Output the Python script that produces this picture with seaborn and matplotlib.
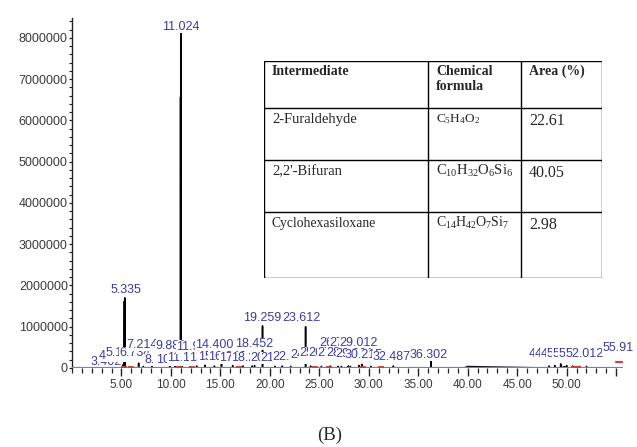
import matplotlib
matplotlib.use("Agg")
import matplotlib.pyplot as plt
import numpy as np
import pandas as pd
import seaborn as sns
from matplotlib.ticker import MultipleLocator, FixedLocator, FuncFormatter

# ---- chromatogram peaks: retention time (min) and abundance ----
peak_rt = [3.402, 4.118, 5.170, 5.290, 5.335, 6.734, 7.214, 8.105, 9.881, 10.412,
           10.972, 11.024, 11.132, 11.930, 12.604, 13.458, 14.400, 15.112, 16.240,
           17.305, 18.220, 18.452, 19.259, 20.514, 21.260, 22.105, 23.612, 24.118,
           25.214, 26.108, 26.880, 27.230, 27.930, 28.140, 29.012, 29.301, 30.215,
           32.487, 36.302, 48.214, 48.806, 49.402, 50.006, 50.610, 51.304, 52.012,
           55.910]
peak_abund = [0.06e6, 0.04e6, 0.08e6, 1.62e6, 1.70e6, 0.12e6, 0.04e6, 0.05e6, 0.06e6, 0.04e6,
              6.57e6, 8.12e6, 0.10e6, 0.06e6, 0.05e6, 0.07e6, 0.05e6, 0.10e6, 0.06e6,
              0.05e6, 0.05e6, 0.06e6, 1.02e6, 0.04e6, 0.05e6, 0.04e6, 1.00e6, 0.05e6,
              0.04e6, 0.05e6, 0.04e6, 0.04e6, 0.05e6, 0.04e6, 0.06e6, 0.09e6, 0.04e6,
              0.05e6, 0.18e6, 0.05e6, 0.06e6, 0.10e6, 0.06e6, 0.05e6, 0.04e6, 0.04e6,
              0.05e6]
# whether the integrator printed a retention-time label for the peak
peak_labelled = [True, True, True, False, True, True, True, True, True, True,
                 False, True, True, True, True, True, True, True, True,
                 True, True, True, True, True, True, True, True, True,
                 True, True, True, True, True, True, True, True, True,
                 True, True, True, True, True, True, True, True, True,
                 True]

# ---- label placement (retention time axis, abundance axis) ----
label_x = [3.45, 4.20, 5.00, None, 5.45, 6.35, 7.10, 8.95, 10.00, 10.40,
           None, 10.96, 11.50, 12.40, 13.10, 13.80, 14.40, 14.60, 15.70,
           16.80, 18.00, 18.45, 19.26, 20.00, 21.00, 22.20, 23.20, 24.00,
           24.90, 25.80, 26.90, 26.70, 27.90, 27.60, 29.00, 28.60, 29.50,
           32.30, 36.10, 48.10, 48.70, 49.30, 49.90, 50.50, 51.10, 51.80,
           55.20]
label_y = [0.14e6, 0.30e6, 0.36e6, None, 1.89e6, 0.36e6, 0.56e6, 0.20e6, 0.53e6, 0.20e6,
           None, 8.27e6, 0.24e6, 0.50e6, 0.25e6, 0.24e6, 0.56e6, 0.26e6, 0.26e6,
           0.24e6, 0.24e6, 0.58e6, 1.21e6, 0.24e6, 0.24e6, 0.26e6, 1.21e6, 0.32e6,
           0.36e6, 0.36e6, 0.60e6, 0.36e6, 0.60e6, 0.36e6, 0.60e6, 0.34e6, 0.32e6,
           0.27e6, 0.32e6, 0.34e6, 0.34e6, 0.34e6, 0.34e6, 0.34e6, 0.34e6, 0.34e6,
           0.49e6]

# baseline drift of the detector trace
drift_rt = [0.0, 39.6, 40.0, 49.8, 50.2, 55.7]
drift_abund = [0.0, 0.0, 0.035e6, 0.035e6, 0.0, 0.0]

# integration event marks along the baseline
event_rt = [5.25, 5.95, 10.85, 12.10, 16.90, 24.60, 26.00, 29.40, 31.20, 50.70, 51.20]

# ---- identified intermediates ----
table_header = ["Intermediate", "Chemical\nformula", "Area (%)"]
intermediates = ["2-Furaldehyde", "2,2'-Bifuran", "Cyclohexasiloxane"]
formulas = [r"$\mathrm{C_{5}H_{4}O_{2}}$", r"$\mathrm{C_{10}H_{32}O_{6}Si_{6}}$",
            r"$\mathrm{C_{14}H_{42}O_{7}Si_{7}}$"]
areas = [22.61, 40.05, 2.98]

sns.set_style("ticks")
plt.rcParams["font.family"] = ["Liberation Sans", "DejaVu Sans"]
plt.rcParams["mathtext.fontset"] = "custom"
plt.rcParams["mathtext.rm"] = "Liberation Serif"
plt.rcParams["mathtext.it"] = "Liberation Serif:italic"

W, H = 637, 447
fig = plt.figure(figsize=(W / 100, H / 100), dpi=100)
ax = fig.add_axes([72 / W, 1 - 368 / H, (623 - 72) / W, (368 - 18) / H])

label_blue = "#3c3ca2"
tick_grey = "#3a3a3a"

# detector trace built from the peak list: a narrow spike per peak on the drift
pts = list(zip(drift_rt, drift_abund))
for rt, h in zip(peak_rt, peak_abund):
    pts += [(rt - 0.02, 0.0), (rt, h), (rt + 0.02, 0.0)]
trace = pd.DataFrame(sorted(pts, key=lambda p: p[0]), columns=["rt", "abund"])
sns.lineplot(data=trace, x="rt", y="abund", estimator=None, sort=False,
             color="black", lw=1.1, ax=ax, zorder=2)

# retention-time labels with white backing, printed left to right
for rt, lab, lx, ly in zip(peak_rt, peak_labelled, label_x, label_y):
    if not lab:
        continue
    txt = f"{rt:.3f}"
    if rt > 55:
        txt = f"{rt:.2f}"
    ax.text(lx, ly, txt, ha="center", va="center", fontsize=9, color=label_blue,
            bbox=dict(boxstyle="square,pad=0.02", fc="white", ec="none"),
            zorder=3, clip_on=False)

# integrator baseline and event marks
ax.axhline(0, color="#7a7ac6", lw=1.6, zorder=4)
ax.plot(event_rt, [0.015e6] * len(event_rt), ls="none", marker="_", ms=5,
        mew=1.3, color="#d23c3c", zorder=5)
ax.plot([peak_rt[-1] - 0.9, peak_rt[-1] - 0.3], [0.15e6, 0.15e6], color="#d23c3c",
        lw=1.6, zorder=5)

ax.set_xlim(0, 55.7)
ax.set_ylim(0, 8.48e6)
ax.set_xlabel("")
ax.set_ylabel("")
for s in ["top", "right"]:
    ax.spines[s].set_visible(False)
ax.spines["bottom"].set_visible(False)
ax.spines["left"].set_color("#222222")
ax.spines["left"].set_linewidth(1.0)

ax.xaxis.set_major_locator(FixedLocator(np.arange(5, 56, 5)))
ax.xaxis.set_minor_locator(MultipleLocator(1))
ax.xaxis.set_major_formatter(FuncFormatter(lambda v, p: f"{v:.2f}" if v < 52 else ""))
ax.yaxis.set_major_locator(MultipleLocator(1e6))
ax.yaxis.set_minor_locator(MultipleLocator(2e5))
ax.yaxis.set_major_formatter(FuncFormatter(lambda v, p: f"{int(round(v))}"))
ax.tick_params(axis="x", which="major", length=6, width=1.0, color="#222222",
               labelsize=8.5, labelcolor=tick_grey, pad=2)
ax.tick_params(axis="x", which="minor", length=3.5, width=0.9, color="#222222")
ax.tick_params(axis="y", which="major", length=2.5, width=0.9, color="#222222",
               labelsize=9, labelcolor=tick_grey, pad=0.5)
ax.tick_params(axis="y", which="minor", length=2, width=0.8, color="#222222")

# ---- table of intermediates ----
tax = fig.add_axes([264 / W, 1 - 278 / H, (602 - 264) / W, (278 - 61) / H])
tw, th = 338, 217
tax.set_xlim(0, tw)
tax.set_ylim(th, 0)
tax.axis("off")
col_edges = [0, 164, 257, tw]
row_edges = [0, 47, 99, 151, th]
for x in col_edges:
    tax.plot([x, x], [0, th], color="black", lw=1.0, solid_capstyle="projecting")
for y in row_edges:
    tax.plot([0, tw], [y, y], color="black", lw=1.0, solid_capstyle="projecting")

serif = ["Liberation Serif", "DejaVu Serif"]
text_x = [c + 8 for c in col_edges[:3]]
for x, t in zip(text_x, table_header):
    tax.text(x, 4, t, ha="left", va="top", fontsize=10, fontweight="bold",
             family=serif, linespacing=1.2)
for i, (name, form, area) in enumerate(zip(intermediates, formulas, areas)):
    top = row_edges[i + 1]
    name_size = 10.5 if i < 2 else 9.8
    form_size = [9.5, 10.5, 10][i]
    tax.text(text_x[0], top + 12, name, ha="left", va="center", fontsize=name_size,
             family=serif)
    tax.text(text_x[1], top + 11, form, ha="left", va="center", fontsize=form_size,
             family=serif)
    tax.text(text_x[2], top + 13, f"{area:.2f}", ha="left", va="center",
             fontsize=11.5, family=serif)

fig.text(330 / W, 1 - 435 / H, "(B)", ha="center", va="center", fontsize=13.5,
         family=serif)

fig.savefig("out.png", dpi=100)
